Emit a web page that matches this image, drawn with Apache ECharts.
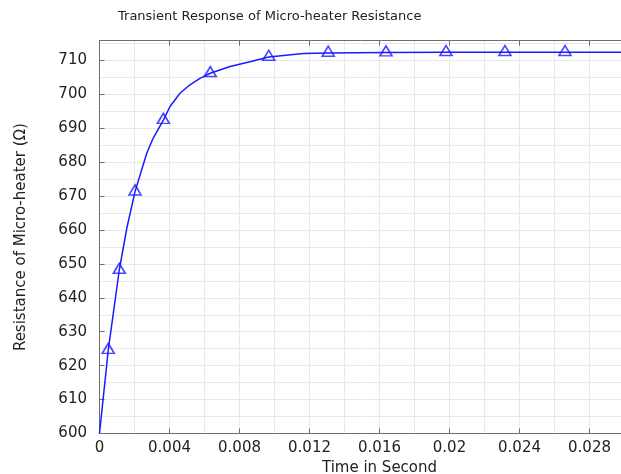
<!DOCTYPE html>
<html>
<head>
<meta charset="utf-8">
<script src="https://cdn.jsdelivr.net/npm/echarts@6/dist/echarts.min.js"></script>
<style>
  html, body { margin: 0; padding: 0; background: #fff; }
  #chart { width: 621px; height: 474px; }
</style>
</head>
<body>
<div id="chart"></div>
<script>
// curve (time in s, resistance in ohm)
var lineTime = [0, 0.0005, 0.00113, 0.00156, 0.00203, 0.0027, 0.00307, 0.00365, 0.00403, 0.0046, 0.00517, 0.00574, 0.00633, 0.00746, 0.0086, 0.00967, 0.01165, 0.01307, 0.01637, 0.0198, 0.02317, 0.0266, 0.03]
var lineRes = [600, 624.6, 648.2, 660.5, 671.3, 682.6, 687.1, 692.4, 696.4, 700.3, 702.8, 704.7, 706.2, 708.2, 709.6, 711.0, 712.0, 712.2, 712.3, 712.4, 712.4, 712.4, 712.4]
// triangle markers
var markTime = [0.0005, 0.00113, 0.00203, 0.00365, 0.00633, 0.00967, 0.01307, 0.01637, 0.0198, 0.02317, 0.0266]
var markRes = [624.6, 648.2, 671.3, 692.4, 706.2, 711.0, 712.2, 712.3, 712.4, 712.4, 712.4]

var lineColor = '#1a1aff'
var axisColor = '#6e6e6e'
var gridColor = '#e9e9e9'
var font = 'DejaVu Sans'

function pairs(xs, ys) {
  return xs.map(function (x, i) { return [x, ys[i]] })
}

var chart = echarts.init(document.getElementById('chart'))
chart.setOption({
  animation: false,
  title: {
    text: 'Transient Response of Micro-heater Resistance',
    left: 113,
    top: 5,
    textStyle: { fontFamily: font, fontSize: 13, fontWeight: 'normal', color: '#222' }
  },
  // plot runs a bit past the right edge of the canvas, like the original
  grid: { left: 99.5, top: 40.7, right: -38.5, bottom: 40.5, outerBoundsMode: 'none', containLabel: false },
  xAxis: [{
    type: 'value',
    min: 0,
    max: 0.032,
    interval: 0.004,
    name: 'Time in Second',
    nameLocation: 'middle',
    nameGap: 21,
    nameTextStyle: { fontFamily: font, fontSize: 15, color: '#222' },
    axisLine: { show: true, lineStyle: { color: axisColor, width: 1 } },
    axisTick: { show: true, inside: true, length: 5, lineStyle: { color: axisColor } },
    axisLabel: { fontFamily: font, fontSize: 15, color: '#222', margin: 7, showMaxLabel: false },
    splitLine: { show: true, lineStyle: { color: gridColor } },
    minorTick: { show: false, splitNumber: 2 },
    minorSplitLine: { show: true, lineStyle: { color: gridColor } }
  }, {
    type: 'value',
    position: 'top',
    min: 0,
    max: 0.032,
    interval: 0.004,
    axisLine: { show: true, lineStyle: { color: axisColor, width: 1 } },
    axisTick: { show: true, inside: true, length: 5, lineStyle: { color: axisColor } },
    axisLabel: { show: false },
    splitLine: { show: false }
  }],
  yAxis: {
    type: 'value',
    min: 600,
    max: 715.8,
    interval: 10,
    offset: 4.5,
    name: 'Resistance of Micro-heater (\u03A9)',
    nameLocation: 'middle',
    nameGap: 66,
    nameTextStyle: { fontFamily: font, fontSize: 15, color: '#222' },
    axisLine: { show: true, lineStyle: { color: axisColor, width: 1 } },
    axisTick: { show: true, inside: true, length: 5, lineStyle: { color: axisColor } },
    axisLabel: { fontFamily: font, fontSize: 15, color: '#222', margin: 8, showMaxLabel: false },
    splitLine: { show: true, lineStyle: { color: gridColor } },
    minorTick: { show: false, splitNumber: 2 },
    minorSplitLine: { show: true, lineStyle: { color: gridColor } }
  },
  series: [{
    type: 'line',
    data: pairs(lineTime, lineRes),
    showSymbol: false,
    symbol: 'none',
    lineStyle: { color: lineColor, width: 1.5 },
    z: 3
  }, {
    type: 'scatter',
    data: pairs(markTime, markRes),
    symbol: 'triangle',
    symbolSize: [12, 10],
    symbolOffset: [0, -1.7],
    itemStyle: { color: 'rgba(0,0,0,0)', borderColor: lineColor, borderWidth: 1.6 },
    z: 4
  }]
})
</script>
</body>
</html>
